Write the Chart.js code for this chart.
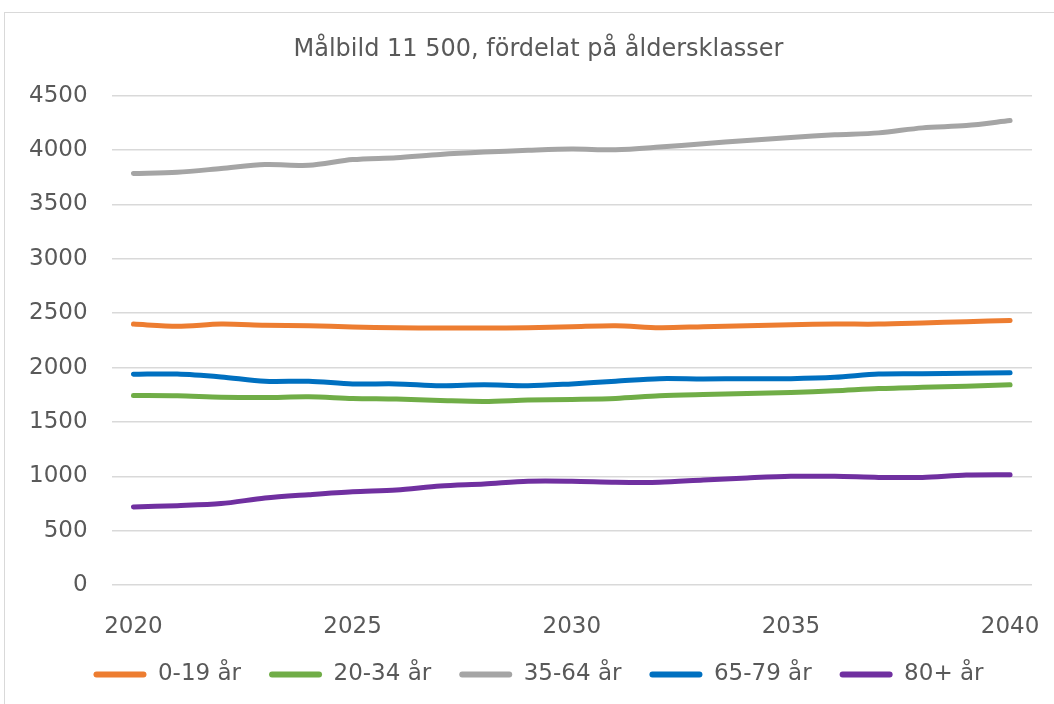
<!DOCTYPE html>
<html>
<head>
<meta charset="utf-8">
<style>
  html, body { margin: 0; padding: 0; background: #fff; overflow: hidden; }
  #frame {
    position: absolute; left: 4px; top: 12px; width: 1060px; height: 700px;
    border: 1px solid #d9d9d9; box-sizing: border-box;
  }
  #wrap { position: absolute; left: 0; top: 0; width: 1049px; height: 692px; }
</style>
</head>
<body>
<div id="frame"><div id="wrap"><canvas id="myChart"></canvas></div></div>

<script src="https://cdn.jsdelivr.net/npm/chart.js"></script>
<script>
// years on the x axis
let years = ['2020','2021','2022','2023','2024','2025','2026','2027','2028','2029','2030',
             '2031','2032','2033','2034','2035','2036','2037','2038','2039','2040'];

// population per age group
let age0_19  = [2400,2380,2400,2390,2385,2373,2367,2364,2364,2367,2376,2385,2367,2376,2385,2394,2400,2400,2410,2422,2434];
let age20_34 = [1743,1740,1728,1725,1731,1716,1710,1698,1689,1701,1707,1716,1740,1752,1761,1770,1786,1807,1819,1828,1841];
let age35_64 = [3785,3797,3831,3867,3861,3913,3931,3961,3982,3998,4010,4004,4028,4059,4089,4117,4141,4159,4205,4226,4272];
let age65_79 = [1938,1941,1914,1874,1874,1850,1850,1832,1841,1832,1850,1874,1898,1895,1898,1898,1910,1941,1944,1947,1953];
let age80    = [718,730,749,800,831,858,874,911,929,954,954,945,945,966,985,1000,1000,990,990,1012,1015];

let seriesNames = ['0-19 år','20-34 år','35-64 år','65-79 år','80+ år'];
let seriesColors = ['#ED7D31','#70AD47','#A5A5A5','#0070C0','#7030A0'];
let seriesData = [age0_19, age20_34, age35_64, age65_79, age80];

let textColor = '#595959';
Chart.defaults.font.family = 'DejaVu Sans';
Chart.defaults.color = textColor;

let datasets = seriesData.map((d, i) => ({
    label: seriesNames[i],
    data: d,
    borderColor: seriesColors[i],
    backgroundColor: seriesColors[i],
    borderWidth: 5,
    borderCapStyle: 'round',
    borderJoinStyle: 'round',
    pointRadius: 0,
    tension: 0.3
}));

// nudge title and legend right so they centre on the plot rather than the canvas
const centerOnPlot = {
    id: 'centerOnPlot',
    afterLayout(chart) {
        const dx = 20;
        [chart.titleBlock, chart.legend].forEach(b => {
            if (b) { b.left += dx; b.right += dx; }
        });
    }
};

let ctx = document.getElementById('myChart').getContext('2d');
let chart = new Chart(ctx, {
    type: 'line',
    data: { labels: years, datasets: datasets },
    plugins: [centerOnPlot],
    options: {
        responsive: true,
        maintainAspectRatio: false,
        animation: false,
        layout: { padding: { left: 0, right: 22, top: 16, bottom: 9 } },
        plugins: {
            title: {
                display: true,
                text: 'Målbild 11 500, fördelat på åldersklasser',
                font: { size: 24, weight: 'normal' },
                padding: { top: 6, bottom: 32 }
            },
            legend: {
                position: 'bottom',
                labels: {
                    font: { size: 23 },
                    boxWidth: 53,
                    boxHeight: 6,
                    useBorderRadius: true,
                    borderRadius: 3,
                    padding: 28,
                    generateLabels: (c) => {
                        let items = Chart.defaults.plugins.legend.labels.generateLabels(c);
                        items.forEach(it => { it.lineWidth = 0; });
                        return items;
                    }
                }
            },
            tooltip: { enabled: false }
        },
        scales: {
            x: {
                offset: true,
                grid: { display: false, drawTicks: false },
                border: { display: false },
                ticks: {
                    font: { size: 23 },
                    autoSkip: false,
                    maxRotation: 0,
                    padding: 28,
                    callback: function (v, i) { return i % 5 === 0 ? years[i] : ''; }
                },
                // keep the year labels close to the legend and the plot full width
                afterFit: (s) => {
                    s.height = 50;
                    s.paddingLeft = 0;
                    s.paddingRight = 0;
                }
            },
            y: {
                min: 0,
                max: 4500,
                grid: { color: '#d9d9d9', lineWidth: 1.5, drawTicks: false },
                border: { display: false },
                ticks: {
                    stepSize: 500,
                    font: { size: 23 },
                    padding: 24,
                    callback: (v) => String(v)
                }
            }
        }
    }
});
</script>
</body>
</html>
